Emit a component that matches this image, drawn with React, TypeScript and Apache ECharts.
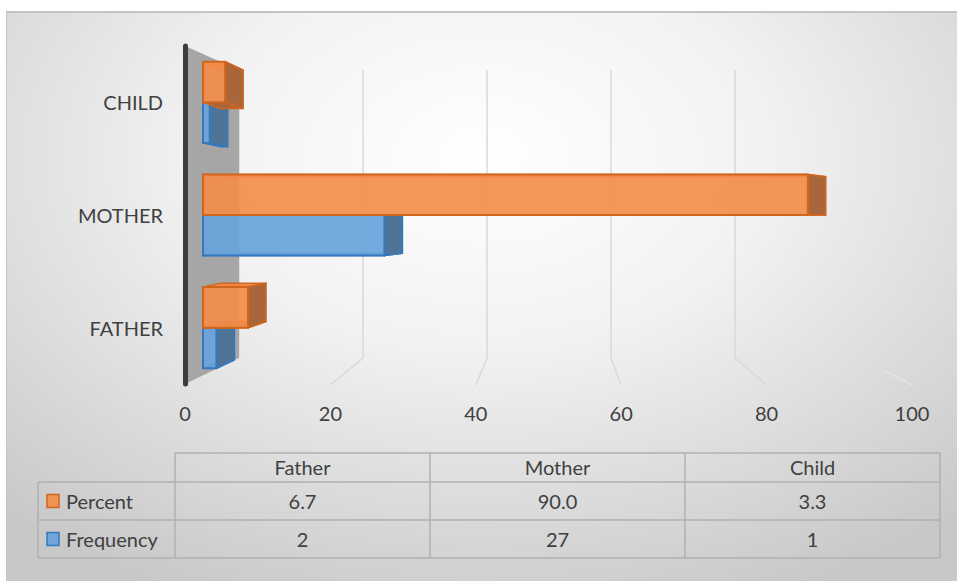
import React, { useEffect, useRef } from "react";
import * as echarts from "echarts";

// ---- data ----
const categories = ["Father", "Mother", "Child"];
const percentValues = [6.7, 90.0, 3.3];
const frequencyValues = [2, 27, 1];
const seriesNames = ["Percent", "Frequency"];
const xTicks = [0, 20, 40, 60, 80, 100];

// ---- layout / style ----
const FONT = "Lato, 'Open Sans', sans-serif";
const TEXT = "#404040";
const GRID_A = { left: 185, top: 46, width: 727, height: 338 }; // front plane (labels)
const GRID_B = { left: 203, top: 46, width: 672, height: 338 }; // bars plane
const GRID_C = { left: 239, top: 70, width: 496, height: 288 }; // back wall (0..80)
const ORANGE = { front: "rgba(242,141,74,0.92)", side: "#A9663B", top: "#EE8A47", border: "#D2651D" };
const BLUE = { front: "rgba(104,163,219,0.92)", side: "#4E7498", top: "#5E98CF", border: "#3478BE" };

const TABLE = { left: 38, labelRight: 175, colW: 255, top: 453, headH: 29, rowH: 38 };

function makeRender(slot: number, c: typeof ORANGE) {
  return (params: any, api: any) => {
    const val = api.value(0);
    const cat = api.value(1);
    const p0 = api.coord([0, cat]);
    const p1 = api.coord([val, cat]);
    const mid = api.coord([0, 1])[1];
    const band = api.size([0, 1])[1];
    const h = band * 0.36;
    const top = slot === 0 ? p0[1] - h : p0[1];
    const bot = top + h;
    const x0 = p0[0];
    const x1 = p1[0];
    const dx = 18;
    const dyT = (mid - top) * 0.055;
    const dyB = (mid - bot) * 0.055;
    const st = { stroke: c.border, lineWidth: 1.5, lineJoin: "round" };
    return {
      type: "group",
      children: [
        { type: "polygon", shape: { points: [[x0, bot], [x1, bot], [x1 + dx, bot + dyB], [x0 + dx, bot + dyB]] }, style: { fill: c.side, ...st } },
        { type: "polygon", shape: { points: [[x0, top], [x1, top], [x1 + dx, top + dyT], [x0 + dx, top + dyT]] }, style: { fill: c.top, ...st } },
        { type: "polygon", shape: { points: [[x1, top], [x1 + dx, top + dyT], [x1 + dx, bot + dyB], [x1, bot]] }, style: { fill: c.side, ...st } },
        { type: "rect", shape: { x: x0, y: top, width: x1 - x0, height: h }, style: { fill: c.front, stroke: c.border, lineWidth: 2 } },
      ],
    };
  };
}

export default function App() {
  const ref = useRef<HTMLDivElement>(null);
  useEffect(() => {
    if (!ref.current) return;
    const chart = echarts.init(ref.current, undefined, { renderer: "svg" });
    const option: any = {
      animation: false,
      backgroundColor: "transparent",
      grid: [
        { ...GRID_A, containLabel: false },
        { ...GRID_B, containLabel: false },
        { ...GRID_C, containLabel: false },
      ],
      xAxis: [
        {
          gridIndex: 0, type: "value", min: 0, max: 100, interval: 20,
          axisLine: { show: false }, axisTick: { show: false }, splitLine: { show: false },
          axisLabel: { color: TEXT, fontSize: 20, fontFamily: FONT, margin: 19 },
        },
        { gridIndex: 1, type: "value", min: 0, max: 100, show: false },
        {
          gridIndex: 2, type: "value", min: 0, max: 80, interval: 20,
          axisLine: { show: false }, axisTick: { show: false }, axisLabel: { show: false },
          splitLine: { show: true, lineStyle: { color: "#d9d9d9", width: 1.5 } },
        },
      ],
      yAxis: [
        {
          gridIndex: 0, type: "category", data: categories.map((s) => s.toUpperCase()), z: 12,
          axisLine: { show: true, lineStyle: { color: "#3d3d3d", width: 5, cap: "round" } },
          axisTick: { show: false },
          axisLabel: { color: TEXT, fontSize: 20, fontFamily: FONT, margin: 22 },
        },
        { gridIndex: 1, type: "category", data: categories, show: false },
        { gridIndex: 2, type: "value", min: 0, max: 1, show: false },
      ],
      series: [
        {
          name: seriesNames[1], type: "custom", xAxisIndex: 1, yAxisIndex: 1, z: 10,
          renderItem: makeRender(1, BLUE),
          encode: { x: 0, y: 1 },
          data: frequencyValues.map((v, i) => [v, i]),
        },
        {
          name: seriesNames[0], type: "custom", xAxisIndex: 1, yAxisIndex: 1, z: 11,
          renderItem: makeRender(0, ORANGE),
          encode: { x: 0, y: 1 },
          data: percentValues.map((v, i) => [v, i]),
        },
      ],
    };
    chart.setOption(option);

    const px = (axis: number, v: number) => chart.convertToPixel({ xAxisIndex: axis } as any, v) as unknown as number;
    const aTop = GRID_A.top, aBot = GRID_A.top + GRID_A.height;
    const cTop = GRID_C.top, cBot = GRID_C.top + GRID_C.height;
    const graphics: any[] = [];
    // side wall
    graphics.push({
      type: "polygon", z: 1,
      shape: { points: [[px(0, 0), aTop], [px(2, 0), cTop], [px(2, 0), cBot], [px(0, 0), aBot]] },
      style: { fill: "#a6a6a6" },
    });
    // floor lines
    xTicks.slice(1).forEach((v) => {
      const bx = px(2, v), fx = px(0, v);
      const f = v === 100 ? 0.45 : 0; // last line only faintly visible near the front
      graphics.push({
        type: "line", z: 1,
        shape: { x1: bx + (fx - bx) * f, y1: cBot + (aBot + 1 - cBot) * f, x2: fx, y2: aBot + 1 },
        style: { stroke: v === 100 ? "#e4e4e4" : "#d9d9d9", lineWidth: 1.5 },
      });
    });
    // data table
    const L = "#b0b0b0";
    const colX = (i: number) => TABLE.labelRight + i * TABLE.colW;
    const right = colX(categories.length);
    const y0 = TABLE.top, y1 = y0 + TABLE.headH, y2 = y1 + TABLE.rowH, y3 = y2 + TABLE.rowH;
    const hline = (x1: number, x2: number, y: number) => ({ type: "line", z: 5, shape: { x1, y1: y, x2, y2: y }, style: { stroke: L, lineWidth: 1.5 } });
    const vline = (x: number, ya: number, yb: number) => ({ type: "line", z: 5, shape: { x1: x, y1: ya, x2: x, y2: yb }, style: { stroke: L, lineWidth: 1.5 } });
    graphics.push(hline(TABLE.labelRight, right, y0));
    [y1, y2, y3].forEach((y) => graphics.push(hline(TABLE.left, right, y)));
    graphics.push(vline(TABLE.left, y1, y3));
    for (let i = 0; i <= categories.length; i++) graphics.push(vline(colX(i), y0, y3));
    const txt = (text: string, x: number, y: number, align: string) => ({
      type: "text", z: 6, x, y,
      style: { text, fill: TEXT, font: `20px ${FONT}`, align, verticalAlign: "middle" },
    });
    categories.forEach((c, i) => graphics.push(txt(c, colX(i) + TABLE.colW / 2, (y0 + y1) / 2 - 1, "center")));
    const rows = [
      { name: seriesNames[0], vals: percentValues.map((v) => v.toFixed(1)), c: ORANGE, y: (y1 + y2) / 2 },
      { name: seriesNames[1], vals: frequencyValues.map((v) => String(v)), c: BLUE, y: (y2 + y3) / 2 },
    ];
    rows.forEach((r) => {
      graphics.push({
        type: "rect", z: 6, shape: { x: 47, y: r.y - 6.5, width: 12, height: 13 },
        style: { fill: r.c.front, stroke: r.c.border, lineWidth: 1.5 },
      });
      graphics.push(txt(r.name, 66, r.y, "left"));
      r.vals.forEach((v, i) => graphics.push(txt(v, colX(i) + TABLE.colW / 2, r.y, "center")));
    });
    chart.setOption({ graphic: graphics });

    return () => chart.dispose();
  }, []);

  return (
    <div style={{ position: "fixed", left: 0, top: 0, width: 957, height: 581, background: "#ffffff", overflow: "hidden" }}>
      <div
        style={{
          position: "absolute", left: 6, top: 11, width: 951, height: 570, boxSizing: "border-box",
          borderTop: "2px solid #c4c4c4", borderLeft: "1px solid #c4c4c4",
          background: "radial-gradient(ellipse 75% 85% at 50% 25%, #ffffff 0%, #f2f2f2 40%, #d6d6d6 80%, #c8c8c8 100%)",
        }}
      />
      <div ref={ref} style={{ position: "absolute", left: 0, top: 0, width: 957, height: 581 }} />
    </div>
  );
}
